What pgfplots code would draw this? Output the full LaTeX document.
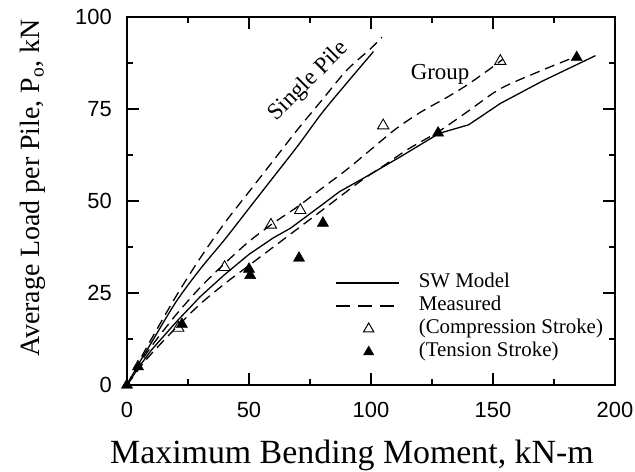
\documentclass[border=0pt]{standalone}
\usepackage{fontspec}
\setmainfont{Liberation Serif}
\newfontfamily\arial{Liberation Sans}
\usepackage{pgfplots}
\pgfplotsset{compat=1.18}
\begin{document}
\begin{tikzpicture}
\begin{axis}[
  at={(0bp,0bp)}, anchor=south west,
  scale only axis, width=488bp, height=368bp,
  xmin=0, xmax=200, ymin=0, ymax=100,
  xtick={0,50,...,200}, ytick={0,25,...,100},
  minor x tick num=1, minor y tick num=1,
  tick align=inside, major tick length=12bp, minor tick length=6bp,
  axis line style={line width=1.6bp},
  every tick/.style={black, line width=1.2bp},
  tick label style={font=\arial\fontsize{22}{22}\selectfont},
  /pgf/number format/assume math mode=true,
  xticklabel style={inner sep=0pt, anchor=north, yshift=-17bp},
  yticklabel style={inner sep=0pt, anchor=east, xshift=-15bp},
  xlabel={Maximum Bending Moment, kN-m},
  ylabel={Average Load per Pile, P$_{\mathrm{o}}$, kN},
  xlabel style={at={(rel axis cs:0.461,0)}, anchor=base, yshift=-78bp, inner sep=0pt, font=\fontsize{34}{34}\selectfont},
  ylabel style={at={(rel axis cs:-0.1783,0.535)}, anchor=base, inner sep=0pt, font=\fontsize{28}{28}\selectfont},
  clip=false,
  legend cell align=left,
  legend style={at={(axis cs:85.2,30.5)}, anchor=north west, draw=none, fill=none,
    font=\fontsize{21}{21}\selectfont, inner sep=0pt, row sep=3bp,
    nodes={inner sep=0.5bp, text height=14bp, text depth=5bp},
    /tikz/every odd column/.append style={column sep=19bp}},
]
\addlegendimage{legend image code/.code={\draw[black, line width=1.2bp] (0bp,0bp) -- (63bp,0bp);}}
\addlegendentry{SW Model}
\addlegendimage{legend image code/.code={\draw[black, line width=1.2bp, dash pattern=on 14bp off 8bp] (0bp,0bp) -- (63bp,0bp);}}
\addlegendentry{Measured}
\addlegendimage{legend image code/.code={\draw[black, line width=1bp, mark=triangle, mark size=6bp, only marks] plot coordinates {(33bp,0bp)};}}
\addlegendentry{(Compression Stroke)}
\addlegendimage{legend image code/.code={\draw[black, fill=black, mark=triangle*, mark size=6bp, only marks] plot coordinates {(33bp,0bp)};}}
\addlegendentry{(Tension Stroke)}

% Single pile, measured (dashed)
\addplot[black, line width=1.3bp, dash pattern=on 10bp off 6bp, smooth, forget plot] coordinates {
(0,0)(5,6.5)(10,12.5)(20,24)(30,34.5)(40,44)(50,52.5)(60,61)(70,69.5)(80,77.5)(90,85.5)(100,91.5)(104.5,94.5)};
% Single pile, SW model (solid)
\addplot[black, line width=1.3bp, smooth, forget plot] coordinates {
(0,0)(5,6)(10,11.5)(20,22.5)(30,31.5)(40,39.5)(50,48)(60,56.5)(70,65)(80,74)(90,82)(101,90.6)};
% Group, compression measured (dashed)
\addplot[black, line width=1.3bp, dash pattern=on 10bp off 6bp, smooth, forget plot] coordinates {
(0,0)(5,5.5)(10,10.5)(20,19)(30,26.5)(40,33)(50,39)(60,44)(70,48.5)(80,53.5)(90,58.5)(100,64)(110,69.5)(120,74)(132,78.5)(140,81.8)(150,86.5)(154,88.5)};
% Group, SW model (solid)
\addplot[black, line width=1.3bp, forget plot] coordinates {
(0,0)(5,5)(10,9.5)(20,17)(30,24)(40,30)(50,35.5)(60,40)(67,42.6)(80,49)(87,52.5)(98,56.6)(112,62)(128,68.4)(140,70.7)(153,76.5)(170,82.5)(192,89.5)};
% Group, tension measured (dashed)
\addplot[black, line width=1.3bp, dash pattern=on 10bp off 6bp, smooth, forget plot] coordinates {
(0,0)(5,4.5)(10,8.5)(20,15.5)(30,22)(40,27.5)(50,32.5)(60,37.5)(70,42.5)(80,47.5)(95.5,55.3)(105,59.5)(115,64)(128,69)(140,74.5)(153,80.5)(170,85.5)(185,89.5)};
% Compression stroke markers
\addplot[only marks, mark=triangle, mark size=6.5bp, black, line width=0.9bp, forget plot] coordinates {
(21,15.5)(40,32)(59,43.5)(71,47.5)(105,70.5)(153,88)};
% Tension stroke markers
\addplot[only marks, mark=triangle*, mark size=6.5bp, black, forget plot] coordinates {
(0,0)(4.5,5)(22.5,16.5)(50,31.5)(50.5,29.8)(70.5,34.5)(80.3,44)(127.5,68.5)(184.3,89)};

\node[rotate=45, font=\fontsize{23.5}{23.5}\selectfont] at (axis cs:74.5,82.5) {Single Pile};
\node[font=\fontsize{23}{23}\selectfont] at (axis cs:128.3,84.5) {Group};
\end{axis}
\pgfresetboundingbox
\useasboundingbox (-127bp,-87bp) rectangle (508bp,385bp);
\end{tikzpicture}
\end{document}
